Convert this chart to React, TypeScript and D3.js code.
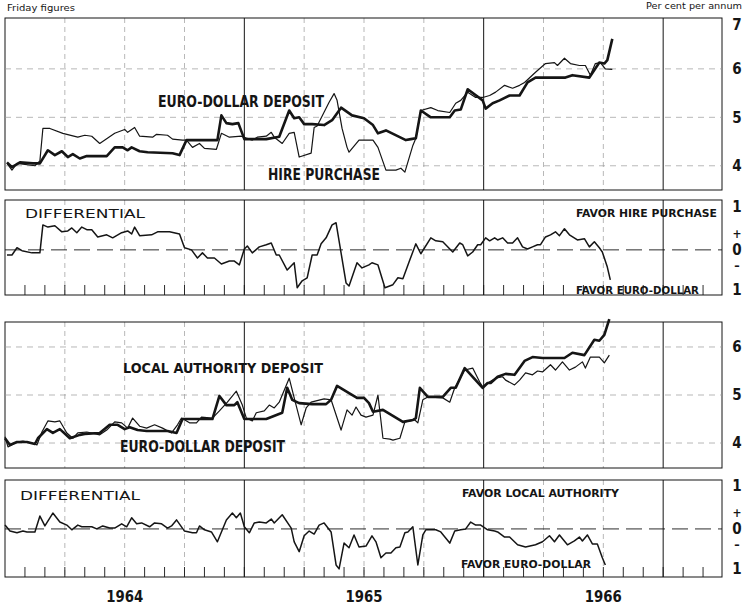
import * as d3 from "d3";
import { useEffect, useRef } from "react";

const WIDTH = 748;
const HEIGHT = 605;

// [months since 1 Jan 1964, per cent per annum], Friday figures
const euroDollarTop = [
  [0.1, 4.07], [0.35, 3.97], [0.75, 4.07], [1.4, 4.05], [1.75, 4.05], [2.15, 4.32], [2.5, 4.22],
  [2.85, 4.3], [3.15, 4.18], [3.4, 4.24], [3.75, 4.15], [4.1, 4.2], [5.1, 4.2], [5.5, 4.38],
  [5.9, 4.38], [6.15, 4.32], [6.35, 4.38], [6.75, 4.3], [7.15, 4.28], [8.4, 4.26], [8.75, 4.22],
  [9.1, 4.53], [10.65, 4.53], [10.85, 5.04], [11.1, 4.88], [11.4, 4.86], [11.7, 4.88], [12.0, 4.55],
  [13.1, 4.55], [13.75, 4.6], [14.25, 5.14], [14.5, 4.98], [14.75, 5.0], [15.0, 4.86], [15.4, 4.86],
  [16.0, 4.84], [16.4, 4.94], [16.85, 5.2], [17.4, 5.04], [18.0, 4.98], [18.45, 4.84], [18.7, 4.67],
  [19.1, 4.73], [20.1, 4.53], [20.35, 4.55], [20.6, 4.57], [20.85, 5.14], [21.35, 5.0], [22.3, 5.0],
  [22.55, 5.14], [22.85, 5.16], [23.2, 5.58], [23.95, 5.35], [24.1, 5.18], [24.45, 5.29], [24.8, 5.35],
  [25.3, 5.45], [25.8, 5.45], [26.2, 5.72], [26.6, 5.82], [27.1, 5.82], [28.1, 5.82], [28.45, 5.87],
  [29.3, 5.82], [29.8, 6.13], [30.05, 6.11], [30.2, 6.18], [30.45, 6.62],
];

const hirePurchase = [
  [0.1, 4.05], [0.35, 3.91], [0.6, 4.05], [1.5, 4.0], [1.75, 4.1], [1.9, 4.77], [2.25, 4.77],
  [2.9, 4.67], [3.65, 4.59], [4.0, 4.63], [4.35, 4.61], [4.75, 4.46], [5.5, 4.67], [6.0, 4.75],
  [6.15, 4.69], [6.5, 4.79], [6.75, 4.61], [7.4, 4.59], [7.6, 4.65], [8.15, 4.63], [8.4, 4.55],
  [8.9, 4.53], [9.1, 4.53], [9.4, 4.38], [9.75, 4.46], [10.0, 4.36], [10.6, 4.34], [10.85, 4.67],
  [11.25, 4.59], [11.85, 4.61], [12.1, 4.57], [12.4, 4.53], [12.65, 4.59], [13.1, 4.61], [13.35, 4.69],
  [13.5, 4.59], [13.9, 4.46], [14.25, 4.67], [14.5, 4.69], [14.75, 4.18], [15.35, 4.26], [15.5, 4.79],
  [15.65, 4.82], [16.25, 5.31], [16.5, 5.49], [16.65, 5.35], [16.9, 4.77], [17.15, 4.38], [17.25, 4.28],
  [17.75, 4.53], [18.45, 4.53], [18.7, 4.38], [19.1, 3.91], [19.6, 3.91], [19.85, 3.95], [20.05, 3.87],
  [20.45, 4.42], [20.6, 4.57], [20.85, 5.14], [21.35, 5.2], [21.7, 5.14], [22.3, 5.1], [22.6, 5.29],
  [22.85, 5.35], [23.2, 5.52], [23.6, 5.41], [23.95, 5.41], [24.3, 5.45], [24.6, 5.52], [25.05, 5.66],
  [25.45, 5.6], [25.8, 5.66], [26.05, 5.72], [26.6, 5.93], [27.1, 6.11], [27.55, 6.13], [27.7, 6.07],
  [28.05, 6.22], [28.35, 6.11], [28.8, 6.07], [29.1, 6.07], [29.35, 5.87], [29.6, 6.11], [29.85, 6.13],
  [30.1, 6.0], [30.45, 5.99],
];

// hire purchase minus euro-dollar, percentage points
const hireDifferential = [
  [0.1, -0.12], [0.35, -0.12], [0.6, 0.05], [0.85, -0.02], [1.35, -0.07], [1.75, -0.07], [1.9, 0.58],
  [2.15, 0.53], [2.5, 0.56], [2.85, 0.42], [3.15, 0.44], [3.35, 0.51], [3.6, 0.4], [3.85, 0.53],
  [4.1, 0.47], [4.35, 0.47], [4.65, 0.3], [5.1, 0.35], [5.4, 0.28], [5.85, 0.4], [6.15, 0.44],
  [6.35, 0.37], [6.5, 0.53], [6.75, 0.33], [7.35, 0.35], [7.65, 0.42], [8.25, 0.42], [8.75, 0.37],
  [9.0, 0.05], [9.35, 0.0], [9.65, -0.19], [9.9, -0.07], [10.15, -0.19], [10.5, -0.19], [10.85, -0.33],
  [11.25, -0.26], [11.5, -0.26], [11.75, -0.35], [12.0, 0.02], [12.15, 0.09], [12.4, -0.07], [12.75, 0.07],
  [13.1, 0.12], [13.35, 0.16], [13.6, -0.12], [13.75, -0.12], [14.15, -0.47], [14.5, -0.3], [14.65, -0.88],
  [14.9, -0.72], [15.15, -0.65], [15.4, -0.12], [15.65, -0.12], [15.85, 0.14], [16.1, 0.28], [16.4, 0.58],
  [16.6, 0.63], [17.1, -0.77], [17.25, -0.84], [17.65, -0.3], [17.9, -0.42], [18.25, -0.35], [18.4, -0.3],
  [18.7, -0.35], [19.05, -0.88], [19.45, -0.81], [19.7, -0.65], [19.95, -0.67], [20.3, -0.23], [20.6, 0.14],
  [20.85, -0.09], [21.35, 0.28], [21.6, 0.21], [21.95, 0.19], [22.45, -0.05], [22.8, 0.16], [22.95, 0.12],
  [23.2, -0.14], [23.45, -0.05], [23.7, 0.12], [23.85, 0.12], [24.1, 0.28], [24.3, 0.21], [24.55, 0.28],
  [24.7, 0.23], [24.95, 0.28], [25.2, 0.16], [25.45, 0.16], [25.7, 0.28], [25.95, 0.07], [26.2, 0.02],
  [26.45, 0.07], [26.7, 0.12], [26.85, 0.12], [27.1, 0.3], [27.35, 0.35], [27.6, 0.42], [27.8, 0.33],
  [28.05, 0.49], [28.3, 0.35], [28.7, 0.23], [29.05, 0.26], [29.3, 0.07], [29.55, 0.19], [29.8, 0.05],
  [29.95, -0.05], [30.2, -0.4], [30.35, -0.7],
];

const euroDollarLow = [
  [0.0, 4.1], [0.25, 3.96], [0.6, 4.02], [1.1, 4.02], [1.5, 3.98], [1.65, 4.1], [2.1, 4.29], [2.4, 4.21],
  [2.75, 4.29], [3.25, 4.1], [3.75, 4.17], [4.0, 4.19], [4.75, 4.21], [5.25, 4.38], [5.65, 4.38],
  [6.0, 4.29], [6.25, 4.33], [6.65, 4.27], [7.1, 4.25], [8.15, 4.25], [8.6, 4.21], [8.9, 4.5],
  [10.4, 4.5], [10.75, 4.98], [11.1, 4.79], [11.5, 4.79], [11.65, 4.85], [12.0, 4.5], [13.1, 4.5],
  [13.9, 4.63], [14.15, 5.15], [14.4, 4.9], [14.75, 4.83], [15.4, 4.81], [16.1, 4.81], [16.35, 4.9],
  [16.65, 5.19], [17.25, 5.04], [17.65, 4.94], [18.0, 4.94], [18.25, 4.83], [18.45, 4.65], [18.95, 4.69],
  [19.95, 4.44], [20.45, 4.48], [20.6, 4.52], [20.8, 5.15], [21.2, 4.96], [21.95, 4.96], [22.35, 5.15],
  [22.6, 5.15], [23.05, 5.56], [23.95, 5.15], [24.2, 5.25], [24.35, 5.25], [24.7, 5.38], [25.1, 5.44],
  [25.55, 5.42], [26.05, 5.71], [26.45, 5.79], [26.95, 5.77], [28.05, 5.77], [28.45, 5.88], [29.05, 5.83],
  [29.55, 6.15], [29.8, 6.13], [30.05, 6.25], [30.3, 6.58],
];

const localAuthority = [
  [0.0, 4.13], [0.15, 3.92], [0.6, 4.02], [0.9, 4.04], [1.35, 4.0], [1.6, 3.96], [1.85, 4.23], [2.15, 4.46],
  [2.5, 4.44], [2.75, 4.46], [3.1, 4.21], [3.4, 4.1], [3.65, 4.21], [4.1, 4.23], [4.75, 4.17], [5.1, 4.27],
  [5.5, 4.44], [5.85, 4.42], [6.15, 4.31], [6.4, 4.52], [6.75, 4.35], [7.1, 4.31], [7.5, 4.38], [7.9, 4.31],
  [8.35, 4.21], [8.65, 4.38], [8.85, 4.52], [9.25, 4.42], [9.6, 4.42], [9.85, 4.54], [10.4, 4.52],
  [10.75, 4.67], [11.15, 4.85], [11.6, 5.08], [11.9, 4.79], [12.1, 4.52], [12.4, 4.46], [12.6, 4.63],
  [13.0, 4.67], [13.25, 4.79], [13.5, 4.73], [13.75, 4.85], [14.25, 5.35], [14.5, 4.94], [14.85, 4.38],
  [15.1, 4.73], [15.35, 4.85], [16.0, 4.92], [16.35, 4.9], [16.85, 4.27], [17.15, 4.69], [17.4, 4.58],
  [17.6, 4.75], [17.85, 4.58], [18.1, 4.54], [18.45, 4.58], [18.7, 5.0], [18.95, 4.1], [19.3, 4.08],
  [19.45, 4.06], [19.8, 4.1], [20.05, 4.44], [20.55, 4.48], [20.7, 4.42], [20.95, 4.9], [21.2, 4.96],
  [21.95, 4.94], [22.3, 4.85], [22.55, 5.15], [23.05, 5.52], [23.45, 5.56], [23.8, 5.27], [23.95, 5.17],
  [24.2, 5.25], [24.6, 5.35], [24.95, 5.38], [25.1, 5.31], [25.55, 5.21], [25.8, 5.31], [26.1, 5.46],
  [26.45, 5.42], [26.7, 5.5], [26.95, 5.48], [27.35, 5.63], [27.6, 5.52], [27.95, 5.69], [28.3, 5.52],
  [28.6, 5.58], [28.95, 5.69], [29.1, 5.56], [29.35, 5.79], [29.8, 5.79], [30.05, 5.67], [30.3, 5.83],
];

// local authority minus euro-dollar, percentage points
const localDifferential = [
  [0.0, 0.09], [0.25, -0.05], [0.6, -0.09], [0.9, -0.05], [1.1, -0.07], [1.5, -0.07], [1.75, 0.3],
  [2.0, 0.07], [2.4, 0.37], [2.75, 0.16], [3.1, 0.09], [3.35, -0.02], [3.65, 0.09], [3.85, 0.05],
  [4.35, 0.05], [4.6, 0.0], [4.9, 0.07], [5.25, 0.02], [5.5, 0.02], [5.85, 0.12], [6.1, 0.05],
  [6.35, 0.26], [6.6, 0.12], [6.85, 0.14], [7.25, 0.05], [7.5, 0.14], [7.85, 0.12], [8.15, 0.02],
  [8.35, 0.07], [8.6, 0.21], [9.0, -0.05], [9.4, -0.09], [9.6, -0.09], [9.75, 0.07], [10.0, -0.02],
  [10.35, -0.07], [10.65, -0.3], [11.1, 0.21], [11.4, 0.37], [11.6, 0.26], [11.8, 0.37], [12.0, 0.05],
  [12.25, -0.09], [12.5, 0.14], [12.75, 0.16], [13.1, 0.14], [13.35, 0.23], [13.5, 0.14], [13.9, 0.33],
  [14.35, 0.02], [14.5, -0.3], [14.75, -0.53], [15.0, -0.16], [15.25, -0.05], [15.5, -0.12], [15.75, 0.09],
  [16.0, 0.14], [16.35, -0.07], [16.6, -0.84], [16.75, -0.93], [17.0, -0.33], [17.25, -0.44], [17.5, -0.14],
  [17.75, -0.42], [18.1, -0.4], [18.4, -0.16], [18.6, -0.3], [18.85, -0.67], [19.1, -0.56], [19.35, -0.56],
  [19.6, -0.44], [19.8, -0.42], [20.05, -0.09], [20.2, -0.07], [20.45, 0.05], [20.7, -0.84], [20.95, -0.14],
  [21.1, -0.02], [21.6, -0.02], [21.85, -0.07], [22.3, -0.33], [22.55, -0.05], [22.85, -0.02], [23.1, 0.0],
  [23.35, 0.16], [23.6, 0.09], [23.85, 0.09], [24.2, -0.02], [24.55, -0.05], [24.7, -0.07], [25.05, -0.19],
  [25.3, -0.19], [25.7, -0.37], [26.1, -0.42], [26.6, -0.37], [26.95, -0.3], [27.3, -0.16], [27.55, -0.3],
  [27.8, -0.14], [28.2, -0.37], [28.55, -0.28], [28.8, -0.19], [28.95, -0.28], [29.2, -0.14], [29.45, -0.35],
  [29.7, -0.35], [29.95, -0.67], [30.1, -0.84],
];

const years = ["1964", "1965", "1966"];
const rateTicks = [4, 5, 6, 7];
const lowRateTicks = [4, 5, 6];
const diffTickLabels = [
  { v: 1, t: "1" }, { v: 0.38, t: "+" }, { v: 0, t: "0" }, { v: -0.36, t: "\u2013" }, { v: -0.93, t: "1" },
];

const INK = "#151515";
const GRID = "#9a9a9a";
const NARROW = "'Liberation Sans Narrow', 'DejaVu Sans Condensed', 'Arial Narrow', sans-serif";
const PLAIN = "'DejaVu Sans', 'Noto Sans', sans-serif";

const LEFT = 5;
const RIGHT = 722;
const AXIS_X = 737;

function drawFrame(svg, x, top, bottom) {
  const g = svg.append("g");
  // quarterly verticals, some drawn solid as on the original sheet
  d3.range(3, 36, 3).forEach(m => {
    const solid = m === 12 || m === 24 || m === 33;
    g.append("line")
      .attr("x1", x(m)).attr("x2", x(m))
      .attr("y1", top).attr("y2", bottom)
      .attr("stroke", solid ? INK : GRID)
      .attr("stroke-width", solid ? 1 : 0.7)
      .attr("stroke-dasharray", solid ? null : "5,4");
  });
  g.append("rect")
    .attr("x", LEFT).attr("y", top)
    .attr("width", RIGHT - LEFT).attr("height", bottom - top)
    .attr("fill", "none").attr("stroke", INK).attr("stroke-width", 1);
  return g;
}

function drawSeries(svg, data, x, y, width) {
  const line = d3.line().x(d => x(d[0])).y(d => y(d[1]));
  svg.append("path")
    .datum(data)
    .attr("d", line)
    .attr("fill", "none")
    .attr("stroke", INK)
    .attr("stroke-width", width)
    .attr("stroke-linejoin", "round");
}

function label(svg, text, x, y, size, len, family, weight) {
  svg.append("text")
    .attr("x", x).attr("y", y)
    .attr("font-family", family)
    .attr("font-size", size)
    .attr("font-weight", weight)
    .attr("textLength", len)
    .attr("lengthAdjust", "spacingAndGlyphs")
    .attr("fill", INK)
    .text(text);
}

function ratesPanel(svg, x, top, bottom, domain, ticks, thin, thick) {
  const y = d3.scaleLinear().domain(domain).range([bottom, top]);
  drawFrame(svg, x, top, bottom);
  ticks.filter(v => v < 7).forEach(v => {
    svg.append("line")
      .attr("x1", LEFT).attr("x2", RIGHT)
      .attr("y1", y(v)).attr("y2", y(v))
      .attr("stroke", GRID).attr("stroke-width", 0.7)
      .attr("stroke-dasharray", "6,5");
  });
  ticks.forEach(v => {
    svg.append("text")
      .attr("x", AXIS_X)
      .attr("y", Math.max(y(v), top + 7))
      .attr("dy", "0.36em")
      .attr("text-anchor", "middle")
      .attr("font-family", NARROW)
      .attr("font-weight", "bold")
      .attr("font-size", 15)
      .attr("fill", INK)
      .text(v);
  });
  drawSeries(svg, thin, x, y, 1.2);
  drawSeries(svg, thick, x, y, 2.6);
  return y;
}

function diffPanel(svg, x, top, bottom, domain, data) {
  const y = d3.scaleLinear().domain(domain).range([bottom, top]);
  drawFrame(svg, x, top, bottom);
  svg.append("line")
    .attr("x1", LEFT).attr("x2", RIGHT)
    .attr("y1", y(0)).attr("y2", y(0))
    .attr("stroke", INK).attr("stroke-width", 0.9)
    .attr("stroke-dasharray", "16,7");
  d3.range(1, 36).forEach(m => {
    svg.append("line")
      .attr("x1", x(m)).attr("x2", x(m))
      .attr("y1", bottom).attr("y2", bottom - 10)
      .attr("stroke", INK).attr("stroke-width", 0.9);
  });
  diffTickLabels.forEach(d => {
    svg.append("text")
      .attr("x", AXIS_X)
      .attr("y", y(d.v))
      .attr("dy", "0.36em")
      .attr("text-anchor", "middle")
      .attr("font-family", NARROW)
      .attr("font-weight", "bold")
      .attr("font-size", d.t === "+" || d.t === "\u2013" ? 12 : 15)
      .attr("fill", INK)
      .text(d.t);
  });
  drawSeries(svg, data, x, y, 1.5);
  return y;
}

const App = () => {
  const ref = useRef(null);

  useEffect(() => {
    const svg = d3.select(ref.current);
    svg.selectAll("*").remove();

    const x = d3.scaleLinear().domain([0, 36]).range([LEFT, RIGHT + 1]);

    svg.append("rect").attr("width", WIDTH).attr("height", HEIGHT).attr("fill", "#fff");

    label(svg, "Friday figures", 7, 11, 8, 68, PLAIN, "normal");
    label(svg, "Per cent per annum", 646, 9, 8, 96, PLAIN, "normal");

    ratesPanel(svg, x, 18, 190, [3.5, 7.05], rateTicks, hirePurchase, euroDollarTop);
    label(svg, "EURO-DOLLAR DEPOSIT", 158, 107, 16, 166, NARROW, "bold");
    label(svg, "HIRE PURCHASE", 268, 180, 16, 112, NARROW, "bold");

    diffPanel(svg, x, 200, 295, [-1.05, 1.16], hireDifferential);
    label(svg, "DIFFERENTIAL", 25, 218, 12.5, 120, PLAIN, "normal");
    label(svg, "FAVOR HIRE PURCHASE", 576, 217, 10, 141, NARROW, "bold");
    label(svg, "FAVOR EURO-DOLLAR", 576, 294, 10, 123, NARROW, "bold");

    ratesPanel(svg, x, 322, 468, [3.48, 6.52], lowRateTicks, localAuthority, euroDollarLow);
    label(svg, "LOCAL AUTHORITY DEPOSIT", 123, 373, 14.5, 200, NARROW, "bold");
    label(svg, "EURO-DOLLAR DEPOSIT", 120, 452, 15.5, 165, NARROW, "bold");

    diffPanel(svg, x, 480, 577, [-1.12, 1.14], localDifferential);
    label(svg, "DIFFERENTIAL", 20, 500, 11.5, 120, PLAIN, "normal");
    label(svg, "FAVOR LOCAL AUTHORITY", 462, 497, 11, 157, NARROW, "bold");
    label(svg, "FAVOR EURO-DOLLAR", 461, 568, 11, 130, NARROW, "bold");

    years.forEach((yr, i) => {
      svg.append("text")
        .attr("x", x(6 + 12 * i))
        .attr("y", 602)
        .attr("text-anchor", "middle")
        .attr("font-family", NARROW)
        .attr("font-weight", "bold")
        .attr("font-size", 15)
        .attr("textLength", 37)
        .attr("lengthAdjust", "spacingAndGlyphs")
        .attr("fill", INK)
        .text(yr);
    });
  }, []);

  return (
    <svg
      ref={ref}
      width={WIDTH}
      height={HEIGHT}
      style={{ position: "absolute", left: 0, top: 0, display: "block" }}
    />
  );
};

export default App;
